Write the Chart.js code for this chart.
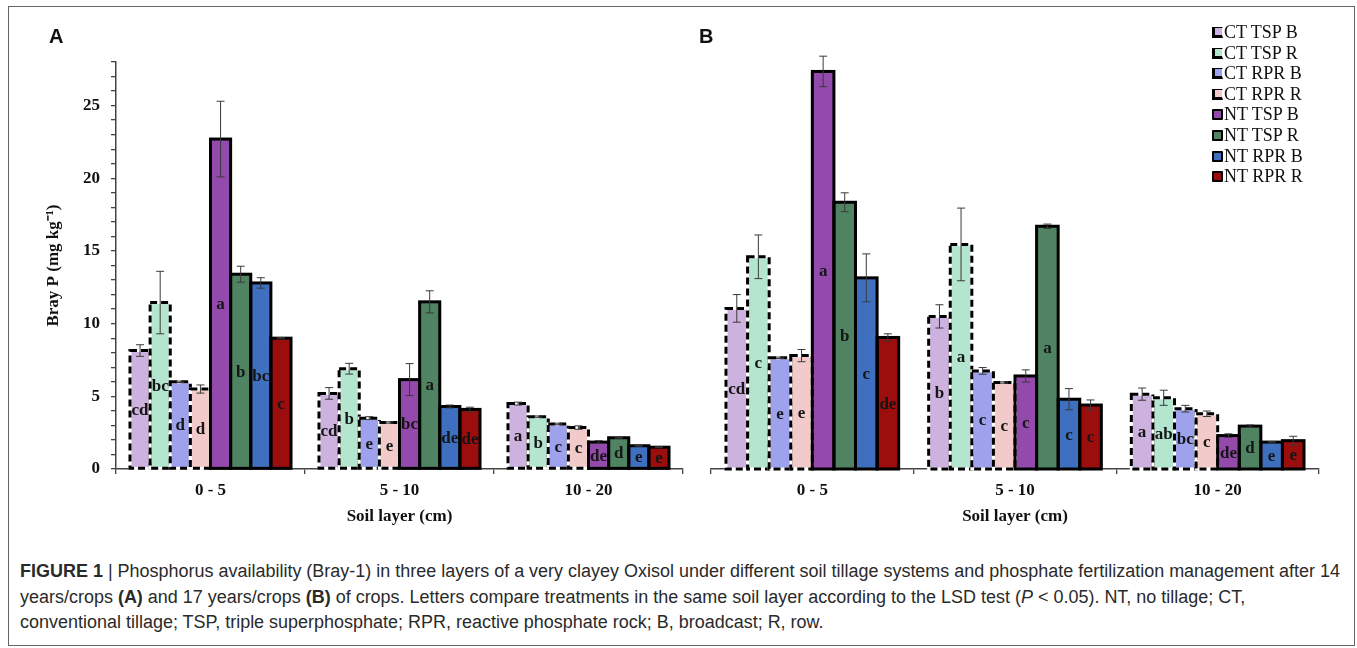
<!DOCTYPE html>
<html>
<head>
<meta charset="utf-8">
<script src="https://cdn.jsdelivr.net/npm/chart.js@4.4.1/dist/chart.umd.min.js"></script>
<style>
  body { margin: 0; background: #fff; width: 1357px; height: 648px; overflow: hidden; position: relative; }
  #frame { position: absolute; left: 8px; top: 6px; width: 1347px; height: 640px; border: 1.5px solid #666; box-sizing: border-box; }
  #wrapA { position: absolute; left: 0; top: 0; width: 690px; height: 540px; }
  #wrapB { position: absolute; left: 690px; top: 0; width: 667px; height: 540px; }
  .panel { position: absolute; top: 26px; font: bold 20px "Liberation Sans", Arial, sans-serif; line-height: 20px; color: #111; }
  #legend { position: absolute; left: 1212px; top: 22px; font: 18px "Liberation Serif", serif; line-height: 20.6px; color: #111; }
  #legend div { white-space: nowrap; }
  #legend span { display: inline-block; width: 7px; height: 7px; margin-right: 1px; vertical-align: 0px; }
  .cap { position: absolute; left: 20px; white-space: nowrap; color: #2a2a2a; font-family: "Liberation Sans", Arial, sans-serif; font-size: 18px; line-height: 26px; transform-origin: 0 50%; }
</style>
</head>
<body>
<div id="frame"></div>
<div id="wrapA"><canvas id="chartA" width="690" height="540"></canvas></div>
<div id="wrapB"><canvas id="chartB" width="667" height="540"></canvas></div>
<div class="panel" style="left:49px">A</div>
<div class="panel" style="left:699px">B</div>
<div id="legend"></div>
<div class="cap" id="cap1" style="top:558px"><b>FIGURE 1</b> | Phosphorus availability (Bray-1) in three layers of a very clayey Oxisol under different soil tillage systems and phosphate fertilization management after 14</div>
<div class="cap" id="cap2" style="top:584px">years/crops <b>(A)</b> and 17 years/crops <b>(B)</b> of crops. Letters compare treatments in the same soil layer according to the LSD test (<i>P</i> &lt; 0.05). NT, no tillage; CT,</div>
<div class="cap" id="cap3" style="top:609px">conventional tillage; TSP, triple superphosphate; RPR, reactive phosphate rock; B, broadcast; R, row.</div>

<script>
// soil layers and treatments
const layers = ['0 - 5', '5 - 10', '10 - 20'];
const treatments = ['CT TSP B', 'CT TSP R', 'CT RPR B', 'CT RPR R', 'NT TSP B', 'NT TSP R', 'NT RPR B', 'NT RPR R'];
const colors = ['#cdb1de', '#b4e6cf', '#9ea2ec', '#f3caca', '#944aac', '#4f8362', '#3f70c0', '#9c0d0d'];

// panel A: 14 years (rows = treatments, cols = layers)
const valuesA = [
  [8.15, 5.2, 4.5],
  [11.45, 6.9, 3.6],
  [6.0, 3.5, 3.1],
  [5.5, 3.2, 2.85],
  [22.7, 6.15, 1.85],
  [13.4, 11.5, 2.15],
  [12.8, 4.3, 1.6],
  [9.0, 4.1, 1.5]
];
const errorsA = [
  [0.4, 0.4, 0.1],
  [2.15, 0.37, 0.05],
  [0.05, 0.1, 0.05],
  [0.28, 0.05, 0.12],
  [2.6, 1.1, 0.1],
  [0.55, 0.76, 0.03],
  [0.36, 0.1, 0.03],
  [0.05, 0.15, 0.03]
];
const lettersA = [
  ['cd', 'cd', 'a'],
  ['bc', 'b', 'b'],
  ['d', 'e', 'c'],
  ['d', 'e', 'c'],
  ['a', 'bc', 'de'],
  ['b', 'a', 'd'],
  ['bc', 'de', 'e'],
  ['c', 'de', 'e']
];

// panel B: 17 years
const valuesB = [
  [11.05, 10.5, 5.15],
  [14.6, 15.45, 4.9],
  [7.65, 6.75, 4.15],
  [7.8, 5.95, 3.8],
  [27.35, 6.4, 2.3],
  [18.35, 16.7, 2.95],
  [13.15, 4.8, 1.85],
  [9.05, 4.4, 1.95]
];
const errorsB = [
  [0.95, 0.8, 0.42],
  [1.5, 2.5, 0.52],
  [0.05, 0.23, 0.23],
  [0.42, 0.05, 0.19],
  [1.05, 0.42, 0.12],
  [0.65, 0.15, 0.08],
  [1.65, 0.73, 0.05],
  [0.25, 0.35, 0.3]
];
const lettersB = [
  ['cd', 'b', 'a'],
  ['c', 'a', 'ab'],
  ['e', 'c', 'bc'],
  ['e', 'c', 'c'],
  ['a', 'c', 'de'],
  ['b', 'a', 'd'],
  ['c', 'c', 'e'],
  ['de', 'c', 'e']
];

const yMax = 28;
const serif = '"Liberation Serif", "Times New Roman", serif';

// borders (dashed for CT), letters and error bars
const barMarks = {
  id: 'barMarks',
  afterDatasetsDraw(chart) {
    const ctx = chart.ctx;
    const ys = chart.scales.y;
    const metas = chart.data.datasets.map((ds, i) => chart.getDatasetMeta(i));
    ctx.save();
    chart.data.datasets.forEach((ds, i) => {
      metas[i].data.forEach(bar => {
        const p = bar.getProps(['x', 'y', 'base', 'width'], true);
        const l = p.x - p.width / 2;
        ctx.lineWidth = 3;
        ctx.setLineDash([]);
        if (ds.dashed) {
          ctx.strokeStyle = '#fff';
          ctx.strokeRect(l, p.y, p.width, p.base - p.y);
          ctx.setLineDash([7, 4]);
        }
        ctx.strokeStyle = '#000';
        ctx.strokeRect(l, p.y, p.width, p.base - p.y);
      });
    });
    ctx.setLineDash([]);
    ctx.font = 'bold 17px ' + serif;
    ctx.textAlign = 'center';
    ctx.textBaseline = 'middle';
    ctx.fillStyle = '#151515';
    chart.data.datasets.forEach((ds, i) => {
      metas[i].data.forEach((bar, j) => {
        const p = bar.getProps(['x', 'y', 'base'], true);
        ctx.fillText(ds.letters[j], p.x, (p.y + p.base) / 2 + 1);
      });
    });
    ctx.strokeStyle = '#3a3a3a';
    ctx.lineWidth = 1;
    chart.data.datasets.forEach((ds, i) => {
      metas[i].data.forEach((bar, j) => {
        const p = bar.getProps(['x'], true);
        const v = ds.data[j], e = ds.errors[j];
        const hi = ys.getPixelForValue(v + e), lo = ys.getPixelForValue(v - e);
        ctx.beginPath();
        ctx.moveTo(p.x, hi); ctx.lineTo(p.x, lo);
        ctx.moveTo(p.x - 4, hi); ctx.lineTo(p.x + 4, hi);
        ctx.moveTo(p.x - 4, lo); ctx.lineTo(p.x + 4, lo);
        ctx.stroke();
      });
    });
    ctx.restore();
  }
};

function makeChart(id, values, errors, letters, showY, padding) {
  return new Chart(document.getElementById(id), {
    type: 'bar',
    data: {
      labels: layers,
      datasets: treatments.map((t, i) => ({
        label: t,
        data: values[i],
        errors: errors[i],
        letters: letters[i],
        dashed: t.startsWith('CT'),
        backgroundColor: colors[i],
        borderWidth: 0,
        categoryPercentage: 0.852,
        barPercentage: 1
      }))
    },
    options: {
      responsive: false,
      animation: false,
      layout: { padding: padding },
      plugins: { legend: { display: false }, tooltip: { enabled: false } },
      scales: {
        x: {
          offset: true,
          grid: { offset: true, drawOnChartArea: false, drawTicks: true, tickLength: 5, color: '#444', lineWidth: 1.3 },
          border: { display: true, color: '#444', width: 1.5 },
          ticks: { color: '#111', font: { family: serif, weight: 'bold', size: 17 }, padding: 6, maxRotation: 0 },
          title: { display: true, text: 'Soil layer (cm)', color: '#111', font: { family: serif, weight: 'bold', size: 17 }, padding: { top: 0, bottom: 13 } },
          afterFit(s) { s.height = 71; s.paddingLeft = 0; s.paddingRight = 0; }
        },
        y: {
          display: showY,
          min: 0,
          max: yMax,
          grid: { drawOnChartArea: false, drawTicks: true, tickLength: 5, color: '#444', lineWidth: 1.3 },
          border: { display: true, color: '#444', width: 1.5 },
          ticks: {
            stepSize: 1, autoSkip: false, padding: 11, color: '#111',
            font: { family: serif, weight: 'bold', size: 17 },
            callback: v => (v % 5 === 0 ? v : '')
          },
          title: { display: true, text: 'Bray P (mg kg\u207B\u00B9)', color: '#111', font: { family: serif, weight: 'bold', size: 17 }, padding: { top: 43, bottom: 0 } },
          afterFit(s) { s.width = showY ? 116 : 0; s.paddingTop = 0; s.paddingBottom = 0; }
        }
      }
    },
    plugins: [barMarks]
  });
}

makeChart('chartA', valuesA, errorsA, lettersA, true, { top: 62, left: 0, right: 7, bottom: 0 });
makeChart('chartB', valuesB, errorsB, lettersB, false, { top: 62, left: 21, right: 38, bottom: 0 });

// legend
const legend = document.getElementById('legend');
treatments.forEach((t, i) => {
  const row = document.createElement('div');
  const sw = document.createElement('span');
  sw.style.background = colors[i];
  if (t.startsWith('CT')) {
    sw.style.borderLeft = '3px solid #000';
    sw.style.borderBottom = '3px solid #000';
    sw.style.borderTop = '1px solid #000';
    sw.style.borderRight = '1px solid #fff';
  } else {
    sw.style.border = '2px solid #000';
    sw.style.borderRadius = '1px';
  }
  row.appendChild(sw);
  row.appendChild(document.createTextNode(t));
  legend.appendChild(row);
});

// condense caption so line 1 spans the reference width
const c1 = document.getElementById('cap1');
const sx = 1320 / c1.offsetWidth;
['cap1', 'cap2', 'cap3'].forEach(id => {
  document.getElementById(id).style.transform = 'scaleX(' + sx.toFixed(4) + ')';
});
</script>
</body>
</html>
